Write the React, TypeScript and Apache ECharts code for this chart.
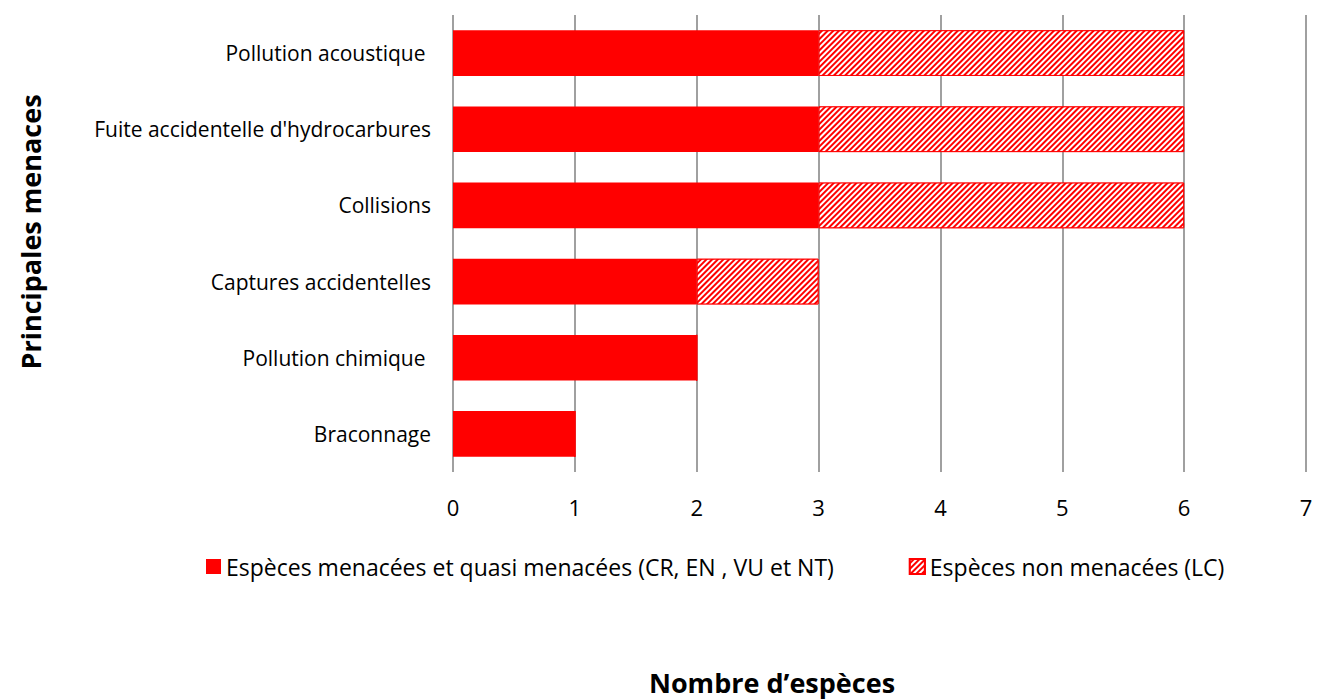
import React, { useEffect, useRef } from "react";
import * as echarts from "echarts";

const categories = [
  "Braconnage",
  "Pollution chimique ",
  "Captures accidentelles",
  "Collisions",
  "Fuite accidentelle d'hydrocarbures",
  "Pollution acoustique ",
];
const threatened = [1, 2, 2, 3, 3, 3];
const notThreatened = [0, 0, 1, 3, 3, 3];
const seriesNames = [
  "Espèces menacées et quasi menacées (CR, EN , VU et NT)",
  "Espèces non menacées (LC)",
];
const xTitle = "Nombre d’espèces";
const yTitle = "Principales menaces";

const FONT = "'Open Sans', sans-serif";

export default function App() {
  const ref = useRef<HTMLDivElement>(null);
  useEffect(() => {
    document.body.style.margin = "0";
    const chart = echarts.init(ref.current!, null, { renderer: "svg" });
    const hatch = {
      symbol: "rect",
      symbolSize: 1,
      color: "#ffffff",
      dashArrayX: [[1, 0]],
      dashArrayY: [2, 2],
      rotation: -Math.PI / 4,
    };
    chart.setOption({
      animation: false,
      textStyle: { fontFamily: FONT },
      grid: { left: 453, right: 13, top: 15, height: 457, containLabel: false },
      legend: {
        left: 201,
        top: 550,
        itemWidth: 15,
        itemHeight: 15,
        itemGap: 75,
        icon: "rect",
        textStyle: { fontSize: 23, color: "#000", fontFamily: FONT },
        data: seriesNames,
      },
      xAxis: {
        type: "value",
        min: 0,
        max: 7,
        interval: 1,
        axisLine: { show: false },
        axisTick: { show: false },
        axisLabel: { fontSize: 22, color: "#000", margin: 24 },
        splitLine: { lineStyle: { color: "#a0a0a0", width: 2 } },
      },
      yAxis: {
        type: "category",
        data: categories,
        axisLine: { show: false },
        axisTick: { show: false },
        axisLabel: { fontSize: 21, color: "#000", margin: 22 },
      },
      series: [
        {
          name: seriesNames[0],
          type: "bar",
          stack: "a",
          data: threatened,
          barCategoryGap: "40%",
          itemStyle: { color: "#ff0000" },
        },
        {
          name: seriesNames[1],
          type: "bar",
          stack: "a",
          data: notThreatened,
          barCategoryGap: "40%",
          itemStyle: {
            color: "#ff0000",
            borderColor: "#ff0000",
            borderWidth: 1,
            decal: hatch,
          },
        },
      ],
      graphic: [
        {
          type: "text",
          x: 772,
          y: 682,
          style: {
            text: xTitle,
            fontSize: 27,
            fontWeight: "bold",
            fill: "#000",
            fontFamily: FONT,
            align: "center",
            verticalAlign: "middle",
          },
        },
        {
          type: "text",
          x: 30,
          y: 232,
          rotation: Math.PI / 2,
          style: {
            text: yTitle,
            fontSize: 27,
            fontWeight: "bold",
            fill: "#000",
            fontFamily: FONT,
            align: "center",
            verticalAlign: "middle",
          },
        },
      ],
    });
    return () => chart.dispose();
  }, []);
  return <div ref={ref} style={{ width: 1319, height: 699 }} />;
}
